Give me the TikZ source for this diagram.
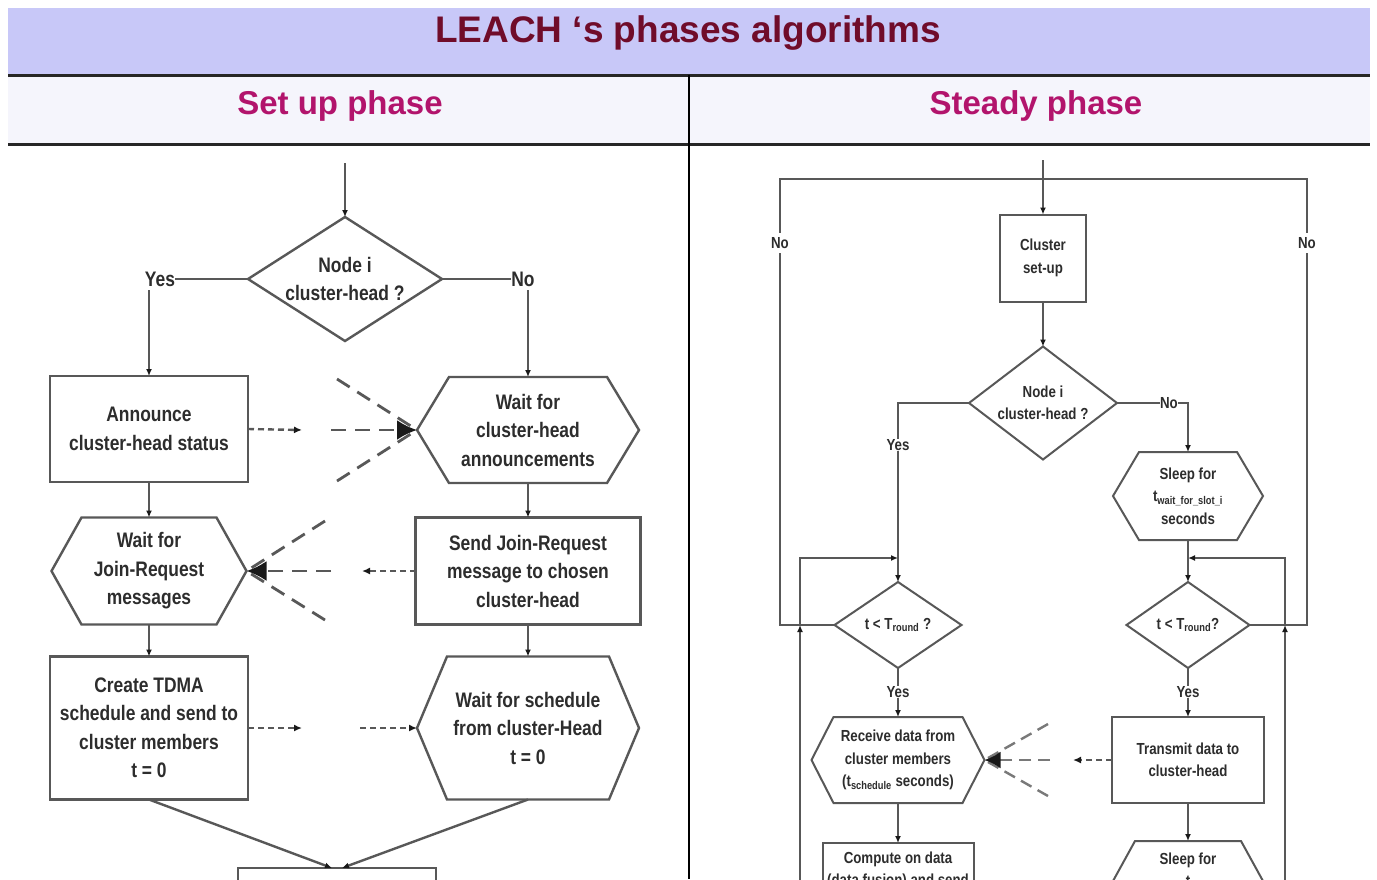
\documentclass[tikz,border=0pt]{standalone}
\usepackage{fontspec}
\setmainfont{Liberation Sans}
\newfontfamily\condsans[FakeStretch=0.83]{Liberation Sans}
\usetikzlibrary{arrows.meta}

\definecolor{bandblue}{RGB}{200,200,248}
\definecolor{headbg}{RGB}{245,245,252}
\definecolor{titlered}{RGB}{112,12,42}
\definecolor{phasepink}{RGB}{178,20,108}
\definecolor{ink}{RGB}{45,45,45}
\definecolor{wire}{RGB}{88,88,88}
\definecolor{tipcol}{RGB}{25,25,25}

% hexagon outline around a (frameless) node: #3 = horizontal cut of the corners
\newcommand\hexframe[3][]{\draw[shapeline,#1] (#2.west) -- ([xshift=#3pt]#2.north west) -- ([xshift=-#3pt]#2.north east) -- (#2.east) -- ([xshift=-#3pt]#2.south east) -- ([xshift=#3pt]#2.south west) -- cycle;}
% diamond outline around a (frameless) node
\newcommand\diaframe[2][]{\draw[shapeline,#1] (#2.north) -- (#2.east) -- (#2.south) -- (#2.west) -- cycle;}

\tikzset{
  ttl/.style={font=\bfseries\fontsize{37}{40}\selectfont, text=titlered, inner sep=0pt},
  phs/.style={font=\bfseries\fontsize{33}{36}\selectfont, text=phasepink, inner sep=0pt},
  lbl/.style={font=\condsans\bfseries\fontsize{21}{28.5}\selectfont, text=ink, align=center, inner sep=0pt, outer sep=0pt},
  sml/.style={font=\condsans\bfseries\fontsize{16}{22.5}\selectfont, text=ink, align=center, inner sep=0pt, outer sep=0pt},
  shapeline/.style={draw=wire, line width=2.4pt, line join=miter},
  thinline/.style={line width=2pt},
  boxL/.style={lbl, draw=wire, line width=2.4pt},
  boxR/.style={sml, draw=wire, line width=2pt},
  wireL/.style={draw=wire, line width=2.4pt},
  wireR/.style={draw=wire, line width=2pt},
  arr/.style={-{Latex[length=7pt,width=6pt,color=tipcol]}},
  arrS/.style={-{Latex[length=8pt,width=7pt,color=tipcol]}},
  arrBig/.style={-{Latex[length=20pt,width=20pt,color=tipcol]}},
  arrBigR/.style={-{Latex[length=16pt,width=17pt,color=tipcol]}},
  dsh/.style={draw=wire, line width=2.4pt, dash pattern=on 6pt off 4pt},
  bcast/.style={draw=wire, line width=2.8pt, dash pattern=on 15pt off 9pt},
  bcastR/.style={draw=wire!80, line width=2.4pt, dash pattern=on 12pt off 7pt},
}

\begin{document}
\begin{tikzpicture}[x=1pt,y=-1pt]
\useasboundingbox (0,0) rectangle (1377,879);
\clip (0,0) rectangle (1377,879);
\fill[white] (0,0) rectangle (1377,879);

% ---------- header ----------
\fill[bandblue] (8,8) rectangle (1370,75);
\fill[headbg] (8,75) rectangle (1370,144);
\draw[line width=3pt, black!85] (8,75) -- (1370,75);
\draw[line width=3pt, black!85] (8,144) -- (1370,144);
\draw[line width=2pt, black] (689,75) -- (689,879);
\node[ttl] (title) at (688,33) {LEACH ‘s phases algorithms};
\node[phs] (setup) at (340,106) {Set up phase};
\node[phs] (steady) at (1036,106) {Steady phase};

% ---------- set up phase ----------
\coordinate (entryL) at (345,163);
\node[lbl, minimum width=194pt, minimum height=124pt] (dia1) at (345,279) {Node i\\cluster-head ?};
\diaframe{dia1}
\node[lbl] (yes1) at (160,279) {Yes};
\node[lbl] (no1) at (523,279) {No};

\node[boxL, minimum width=198pt, minimum height=106pt] (ann) at (149,429) {Announce\\cluster-head status};
\node[lbl, minimum width=222pt, minimum height=106pt] (waitann) at (528,430) {Wait for\\cluster-head\\announcements};
\hexframe{waitann}{32}

\node[lbl, minimum width=195pt, minimum height=107pt] (waitjoin) at (149,571) {Wait for\\Join-Request\\messages};
\hexframe{waitjoin}{30}
\node[boxL, minimum width=225pt, minimum height=107pt] (send) at (528,571) {Send Join-Request\\message to chosen\\cluster-head};

\node[boxL, minimum width=198pt, minimum height=143pt] (create) at (149,728) {Create TDMA\\schedule and send to\\cluster members\\t = 0};
\node[lbl, minimum width=222pt, minimum height=143pt] (waitsch) at (528,728) {Wait for schedule\\from cluster-Head\\t = 0};
\hexframe{waitsch}{30}

\node[boxL, minimum width=198pt, minimum height=60pt] (next) at (337,898) {};

% solid connectors
\draw[wireL, arr] (entryL) -- (dia1.north);
\draw[wireL] (dia1.west) -- (yes1.east);
\draw[wireL, arr] ([yshift=-4pt]yes1.south -| ann.north) -- (ann.north);
\draw[wireL] (dia1.east) -- (no1.west);
\draw[wireL, arr] ([yshift=-4pt]no1.south -| waitann.north) -- (waitann.north);
\draw[wireL, arr] (ann.south) -- (waitjoin.north);
\draw[wireL, arr] (waitann.south) -- (send.north);
\draw[wireL, arr] (waitjoin.south) -- (create.north);
\draw[wireL, arr] (send.south) -- (waitsch.north);
\draw[wireL, arr] (create.south) -- ([xshift=-5pt]next.north);
\draw[wireL, arr] (waitsch.south) -- ([xshift=5pt]next.north);

% radio messages: announcement
\coordinate (d1) at (302,430);
\draw[dsh, arrS] (ann.east) -- (d1);
\coordinate (b1a) at (337,379);
\coordinate (b1b) at (331,430);
\coordinate (b1c) at (337,481);
\draw[bcast] (b1a) -- (waitann.west);
\draw[bcast] (b1c) -- (waitann.west);
\draw[bcast, arrBig] (b1b) -- (waitann.west);

% radio messages: join request
\coordinate (d2) at (362,571);
\draw[dsh, arrS] (send.west) -- (d2);
\coordinate (b2a) at (325,521);
\coordinate (b2b) at (331,571);
\coordinate (b2c) at (325,620);
\draw[bcast] (b2a) -- (waitjoin.east);
\draw[bcast] (b2c) -- (waitjoin.east);
\draw[bcast, arrBig] (b2b) -- (waitjoin.east);

% radio messages: schedule
\coordinate (d3) at (302,728);
\coordinate (d4) at (360,728);
\draw[dsh, arrS] (create.east) -- (d3);
\draw[dsh, arrS] (d4) -- (waitsch.west);

% ---------- steady phase ----------
\coordinate (entryR) at (1043,160);
\node[boxR, minimum width=86pt, minimum height=87pt] (cs) at (1043,258) {Cluster\\set-up};
\node[sml, minimum width=148pt, minimum height=113pt] (dia2) at (1043,403) {Node i\\cluster-head ?};
\diaframe[thinline]{dia2}
\node[sml] (yes2) at (898,445) {Yes};
\node[sml] (no2) at (1169,403) {No};
\node[sml, minimum width=150pt, minimum height=88pt] (sleep1) at (1188,496) {Sleep for\\t\textsubscript{wait\_for\_slot\_i}\\seconds};
\hexframe[thinline]{sleep1}{26}

\node[sml, minimum width=127pt, minimum height=86pt] (dia3) at (898,625) {t < T\textsubscript{round} ?};
\diaframe[thinline]{dia3}
\node[sml, minimum width=123pt, minimum height=86pt] (dia4) at (1188,625) {t < T\textsubscript{round}?};
\diaframe[thinline]{dia4}
\node[sml] (yes3) at (898,692) {Yes};
\node[sml] (yes4) at (1188,692) {Yes};

\node[sml, minimum width=173pt, minimum height=86pt] (recv) at (898,760) {Receive data from\\cluster members\\(t\textsubscript{schedule} seconds)};
\hexframe[thinline]{recv}{22}
\node[boxR, minimum width=152pt, minimum height=86pt] (trans) at (1188,760) {Transmit data to\\cluster-head};

\node[boxR, minimum width=151pt, minimum height=74pt] (comp) at (898,880) {Compute on data\\(data fusion) and send\\\mbox{}};
\node[sml, minimum width=150pt, minimum height=80pt] (sleep2) at (1188,881) {Sleep for\\t\\\mbox{}};
\hexframe[thinline]{sleep2}{22}

% outer loop: back to cluster set-up
\coordinate (oL) at (780,625);
\coordinate (oLt) at (780,179);
\coordinate (oRt) at (1307,179);
\coordinate (oR) at (1307,625);
\draw[wireR] (dia3.west) -- (oL) -- (oLt) -- (oRt) -- (oR) -- (dia4.east);
\node[sml, fill=white, inner ysep=4pt] (noL) at (780,243) {No};
\node[sml, fill=white, inner ysep=4pt] (noR) at (1307,243) {No};

% inner loops: repeat the round test
\coordinate (iLb) at (800,890);
\coordinate (iLm) at (800,625);
\coordinate (iLt) at (800,558);
\coordinate (jL) at (898,558);
\draw[wireR, arr] (iLb) -- (iLm);
\draw[wireR, arr] (iLm) -- (iLt) -- (jL);
\coordinate (iRb) at (1285,890);
\coordinate (iRm) at (1285,625);
\coordinate (iRt) at (1285,558);
\coordinate (jR) at (1188,558);
\draw[wireR, arr] (iRb) -- (iRm);
\draw[wireR, arr] (iRm) -- (iRt) -- (jR);

% main flow
\draw[wireR, arr] (entryR) -- (cs.north);
\draw[wireR, arr] (cs.south) -- (dia2.north);
\draw[wireR] (dia2.west) -| (yes2.north);
\draw[wireR, arr] (yes2.south) -- (dia3.north);
\draw[wireR] (dia2.east) -- (no2.west);
\draw[wireR, arr] (no2.east) -| (sleep1.north);
\draw[wireR, arr] (sleep1.south) -- (dia4.north);
\draw[wireR] (dia3.south) -- (yes3.north);
\draw[wireR, arr] (yes3.south) -- (recv.north);
\draw[wireR] (dia4.south) -- (yes4.north);
\draw[wireR, arr] (yes4.south) -- (trans.north);
\draw[wireR, arr] (recv.south) -- (comp.north);
\draw[wireR, arr] (trans.south) -- (sleep2.north);

% radio messages: data to cluster-head
\coordinate (d5) at (1073,760);
\draw[dsh, line width=2pt, arrS] (trans.west) -- (d5);
\coordinate (b5a) at (1048,724);
\coordinate (b5b) at (1050,760);
\coordinate (b5c) at (1048,796);
\draw[bcastR] (b5a) -- (recv.east);
\draw[bcastR] (b5c) -- (recv.east);
\draw[bcastR, arrBigR] (b5b) -- (recv.east);
\end{tikzpicture}
\end{document}
